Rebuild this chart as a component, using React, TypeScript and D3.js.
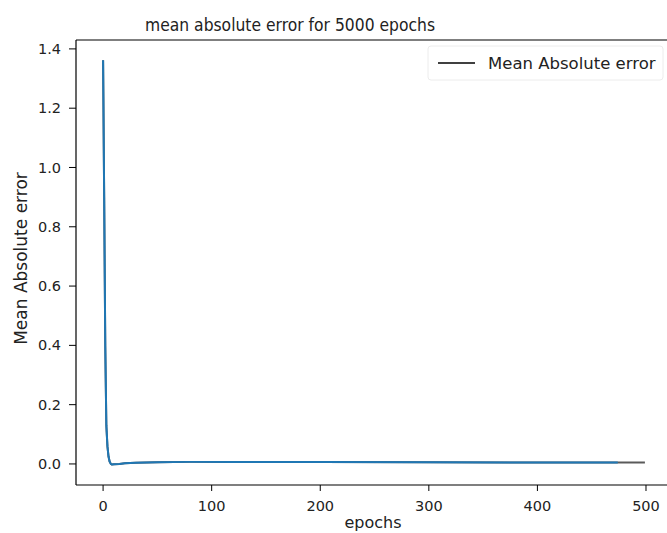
import { useEffect, useRef } from "react";
import * as d3 from "d3";

const epochs = [0, 1, 2, 3, 4, 5, 6, 7, 8, 10, 15, 20, 30, 50, 80, 120, 200, 300, 400, 474, 499];
// mean absolute error at those epochs
const maeGray = [1.362, 0.9, 0.4, 0.13, 0.06, 0.025, 0.008, 0.001, -0.002, -0.001, 0.0, 0.002, 0.004, 0.006, 0.007, 0.007, 0.007, 0.006, 0.005, 0.005, 0.005];
const maeBlue = maeGray.slice(0, 20);
const epochsBlue = epochs.slice(0, 20);

const xTicks = [0, 100, 200, 300, 400, 500];
const yTicks = [0.0, 0.2, 0.4, 0.6, 0.8, 1.0, 1.2, 1.4];

const App = () => {
  const svgRef = useRef<SVGSVGElement | null>(null);

  useEffect(() => {
    const W = 667;
    const H = 533;
    const left = 76, right = 672, top = 40, bottom = 485;
    const font = "DejaVu Sans, sans-serif";

    const svg = d3.select(svgRef.current);
    svg.selectAll("*").remove();
    svg.attr("width", W).attr("height", H);

    svg.append("rect").attr("width", W).attr("height", H).attr("fill", "#fff");

    const x = d3.scaleLinear().domain([-24.95, 523.95]).range([left, right]);
    const y = d3.scaleLinear().domain([-0.071, 1.43]).range([bottom, top]);

    // lines
    const grayPts = epochs.map((e, i) => [e, maeGray[i]] as [number, number]);
    const bluePts = epochsBlue.map((e, i) => [e, maeBlue[i]] as [number, number]);
    const line = d3
      .line<[number, number]>()
      .x((d) => x(d[0]))
      .y((d) => y(d[1]));

    svg
      .append("path")
      .attr("d", line(grayPts))
      .attr("fill", "none")
      .attr("stroke", "#5a5a5a")
      .attr("stroke-width", 2)
      .attr("stroke-linejoin", "round");

    svg
      .append("path")
      .attr("d", line(bluePts))
      .attr("fill", "none")
      .attr("stroke", "#1f77b4")
      .attr("stroke-width", 2)
      .attr("stroke-linejoin", "round");

    // spines
    const sp = svg.append("g").attr("stroke", "#000").attr("stroke-width", 1.2).attr("fill", "none");
    sp.append("line").attr("x1", left).attr("x2", left).attr("y1", top).attr("y2", bottom);
    sp.append("line").attr("x1", left).attr("x2", right).attr("y1", bottom).attr("y2", bottom);
    sp.append("line").attr("x1", left).attr("x2", right).attr("y1", top).attr("y2", top);

    // x ticks
    const xg = svg.append("g");
    xTicks.forEach((t) => {
      xg.append("line")
        .attr("x1", x(t)).attr("x2", x(t))
        .attr("y1", bottom).attr("y2", bottom + 6)
        .attr("stroke", "#000").attr("stroke-width", 1);
      xg.append("text")
        .attr("x", x(t)).attr("y", bottom + 26)
        .attr("text-anchor", "middle")
        .attr("font-family", font).attr("font-size", 14.5)
        .attr("fill", "#222")
        .text(String(t));
    });

    // y ticks
    const yg = svg.append("g");
    yTicks.forEach((t) => {
      yg.append("line")
        .attr("x1", left - 7).attr("x2", left)
        .attr("y1", y(t)).attr("y2", y(t))
        .attr("stroke", "#000").attr("stroke-width", 1);
      yg.append("text")
        .attr("x", left - 15).attr("y", y(t))
        .attr("dy", "0.35em")
        .attr("text-anchor", "end")
        .attr("font-family", font).attr("font-size", 14.5)
        .attr("fill", "#222")
        .text(t.toFixed(1));
    });

    // axis labels and title
    svg.append("text")
      .attr("x", 373).attr("y", 528)
      .attr("text-anchor", "middle")
      .attr("font-family", font).attr("font-size", 16)
      .attr("fill", "#222")
      .text("epochs");

    svg.append("text")
      .attr("transform", `translate(27,${(top + bottom) / 2 - 4}) rotate(-90)`)
      .attr("text-anchor", "middle")
      .attr("font-family", font).attr("font-size", 17)
      .attr("fill", "#222")
      .text("Mean Absolute error");

    svg.append("text")
      .attr("x", 145).attr("y", 31)
      .attr("font-family", font).attr("font-size", 18)
      .attr("textLength", 290)
      .attr("lengthAdjust", "spacingAndGlyphs")
      .attr("fill", "#222")
      .text("mean absolute error for 5000 epochs");

    // legend
    const lg = svg.append("g");
    lg.append("rect")
      .attr("x", 428).attr("y", 46).attr("width", 235).attr("height", 34)
      .attr("rx", 3)
      .attr("fill", "#fff").attr("fill-opacity", 0.8)
      .attr("stroke", "#ececec").attr("stroke-width", 1);
    lg.append("line")
      .attr("x1", 438).attr("x2", 475).attr("y1", 63).attr("y2", 63)
      .attr("stroke", "#404040").attr("stroke-width", 1.8);
    lg.append("text")
      .attr("x", 488).attr("y", 63).attr("dy", "0.35em")
      .attr("font-family", font).attr("font-size", 16.5)
      .attr("fill", "#222")
      .text("Mean Absolute error");
  }, []);

  return (
    <div style={{ position: "absolute", left: 0, top: 0 }}>
      <svg ref={svgRef} style={{ display: "block" }}></svg>
    </div>
  );
};

export default App;
